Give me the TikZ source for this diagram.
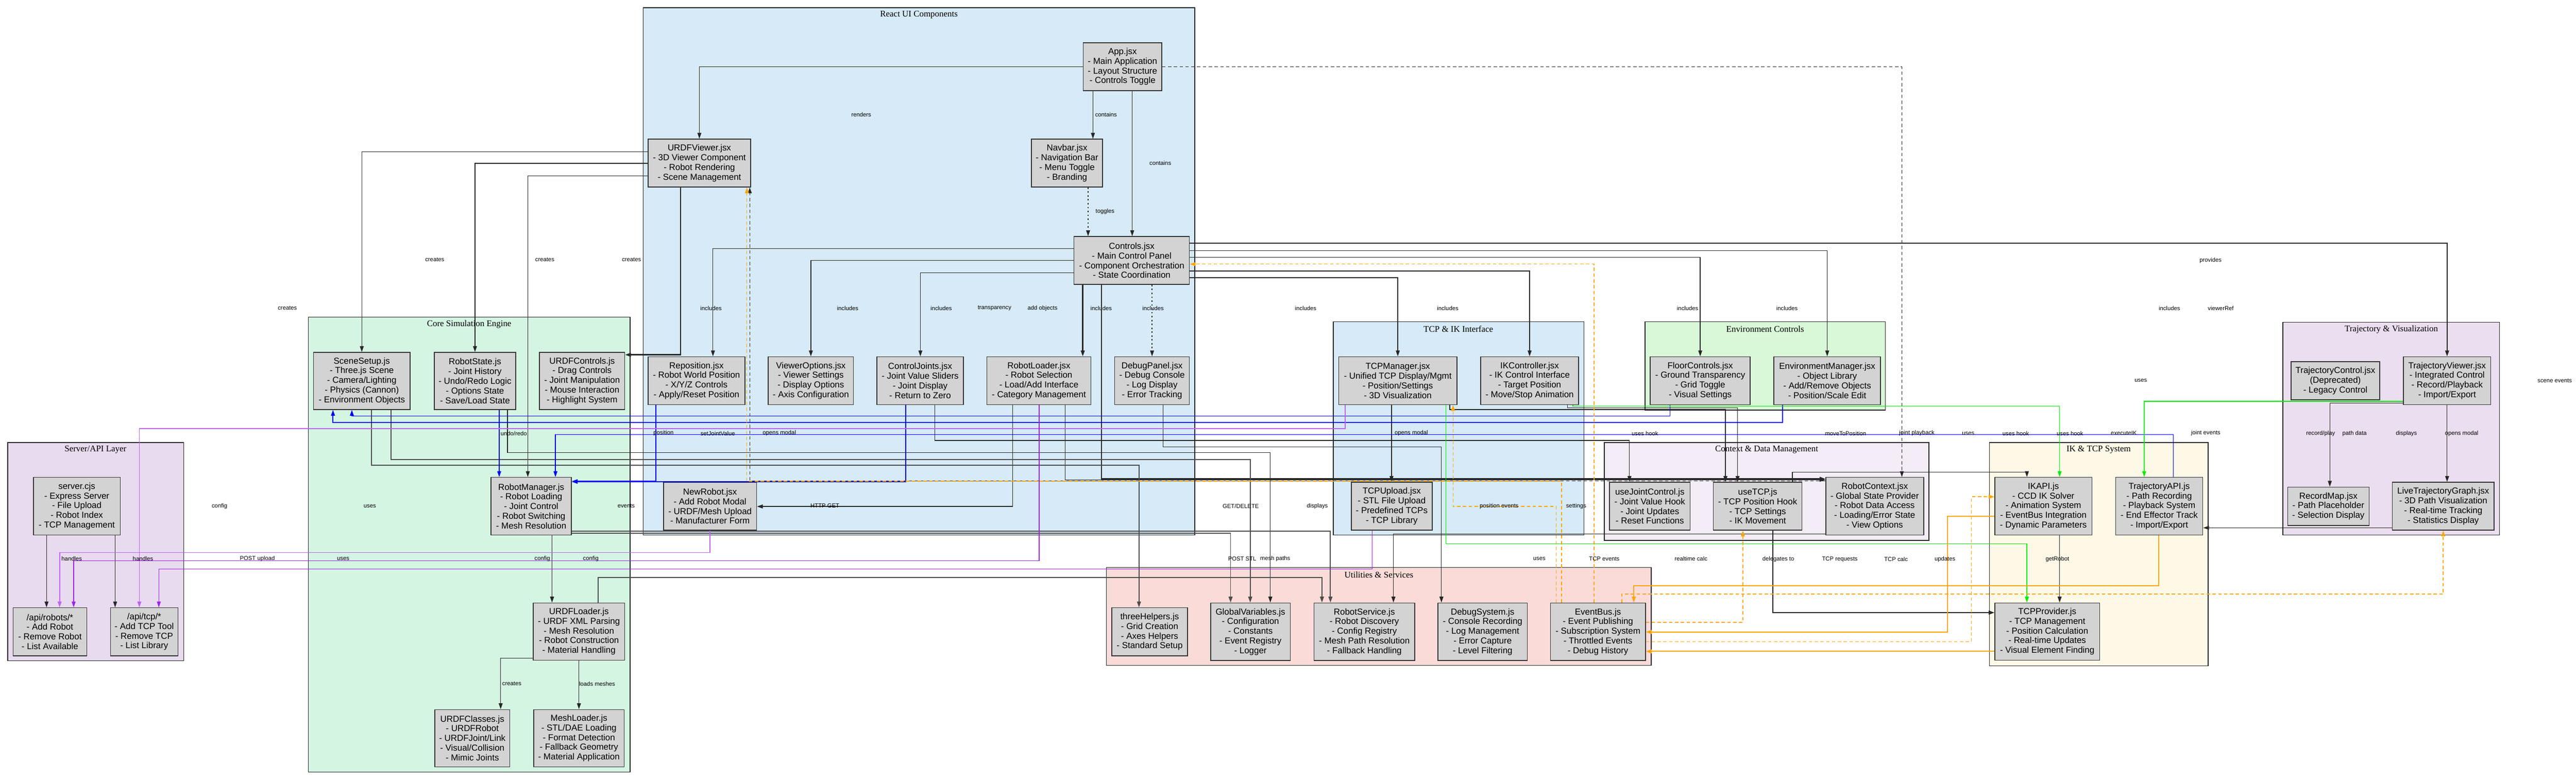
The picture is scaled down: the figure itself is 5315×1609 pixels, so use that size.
\documentclass[tikz,border=0pt]{standalone}
\usepackage{fontspec}
\setmainfont{Liberation Sans}
\newfontfamily\serifclu{Liberation Serif}
\usetikzlibrary{arrows.meta}
\definecolor{boxgray}{HTML}{D3D3D3}
\definecolor{cReact}{HTML}{D6EAF8}
\definecolor{cCore}{HTML}{D5F5E3}
\definecolor{cServer}{HTML}{E8DAEF}
\definecolor{cEnv}{HTML}{D8F8D8}
\definecolor{cCtx}{HTML}{F4ECF7}
\definecolor{cUtil}{HTML}{FADBD8}
\definecolor{cIK}{HTML}{FEF9E7}
\definecolor{cTraj}{HTML}{EBDEF0}
\definecolor{eorange}{HTML}{FFA500}
\definecolor{eblue}{HTML}{0000FF}
\definecolor{epurple}{HTML}{A020F0}
\definecolor{egreen}{HTML}{00EE00}
\tikzset{
  box/.style={draw=black!80, line width=1.6pt, fill=boxgray, inner sep=0pt, align=center, font=\fontsize{18}{20}\selectfont},
  clu/.style={draw=black!85, line width=1.5pt},
  clt/.style={font=\serifclu\fontsize{18}{20}\selectfont, inner sep=0pt},
  lab/.style={font=\fontsize{12}{14}\selectfont, inner sep=0pt},
  e/.style={color=black!85, line width=1.4pt, -{Triangle[length=12pt,width=8pt]}},
  ethick/.style={e, line width=2.4pt},
  ebl/.style={e, color=eblue, line width=1.3pt},
  epu/.style={e, color=epurple, line width=1.3pt},
  egr/.style={e, color=egreen, line width=1.5pt},
  eor/.style={e, color=eorange, line width=2pt},
  dsh/.style={dash pattern=on 7pt off 5pt},
  dotl/.style={dash pattern=on 3pt off 5pt},
}
\newcommand\boxnode[6]{\node[box,minimum width={(#4-#2)*1pt},minimum height={(#5-#3)*1pt}] (#1) at ({(#2+#4)/2},{(#3+#5)/2}) {#6};}
\begin{document}
\begin{tikzpicture}[x=1pt,y=-1pt]
\fill[white] (0,0) rectangle (5315,1609);
\useasboundingbox (0,0) rectangle (5315,1609);
% clusters
\draw[clu,fill=cReact] (1327,16) rectangle (2465,1104);
\draw[clu,fill=cCore] (636,654) rectangle (1300,1593);
\draw[clu,fill=cServer] (16,913) rectangle (379,1363);
\draw[clu,fill=cReact] (2751,664) rectangle (3268,1104);
\draw[clu,fill=cEnv] (3394,664) rectangle (3890,846);
\draw[clu,fill=cCtx] (3310,913) rectangle (3980,1115);
\draw[clu,fill=cUtil] (2283,1171) rectangle (3407,1373);
\draw[clu,fill=cIK] (4105,913) rectangle (4556,1374);
\draw[clu,fill=cTraj] (4710,665) rectangle (5157,1104);
\node[clt] (tReact) at (1896,31) {React UI Components};
\node[clt] (tCore) at (968,669) {Core Simulation Engine};
\node[clt] (tServer) at (197,928) {Server/API Layer};
\node[clt] (tTCPIK) at (3009,679) {TCP \& IK Interface};
\node[clt] (tEnv) at (3642,679) {Environment Controls};
\node[clt] (tCtx) at (3645,928) {Context \& Data Management};
\node[clt] (tUtil) at (2845,1186) {Utilities \& Services};
\node[clt] (tIK) at (4330,928) {IK \& TCP System};
\node[clt] (tTraj) at (4934,680) {Trajectory \& Visualization};
% nodes
\boxnode{App}{2235}{88}{2397}{187}{App.jsx\\- Main Application\\- Layout Structure\\- Controls Toggle}
\boxnode{URDFViewer}{1337}{287}{1549}{386}{URDFViewer.jsx\\- 3D Viewer Component\\- Robot Rendering\\- Scene Management}
\boxnode{Navbar}{2128}{287}{2275}{386}{Navbar.jsx\\- Navigation Bar\\- Menu Toggle\\- Branding}
\boxnode{Controls}{2216}{488}{2454}{587}{Controls.jsx\\- Main Control Panel\\- Component Orchestration\\- State Coordination}
\boxnode{Reposition}{1337}{736}{1537}{835}{Reposition.jsx\\- Robot World Position\\- X/Y/Z Controls\\- Apply/Reset Position}
\boxnode{ViewerOptions}{1585}{736}{1761}{835}{ViewerOptions.jsx\\- Viewer Settings\\- Display Options\\- Axis Configuration}
\boxnode{ControlJoints}{1809}{736}{1988}{835}{ControlJoints.jsx\\- Joint Value Sliders\\- Joint Display\\- Return to Zero}
\boxnode{RobotLoader}{2036}{736}{2251}{835}{RobotLoader.jsx\\- Robot Selection\\- Load/Add Interface\\- Category Management}
\boxnode{DebugPanel}{2300}{736}{2454}{835}{DebugPanel.jsx\\- Debug Console\\- Log Display\\- Error Tracking}
\boxnode{NewRobot}{1369}{995}{1561}{1094}{NewRobot.jsx\\- Add Robot Modal\\- URDF/Mesh Upload\\- Manufacturer Form}
\boxnode{SceneSetup}{647}{727}{846}{845}{SceneSetup.js\\- Three.js Scene\\- Camera/Lighting\\- Physics (Cannon)\\- Environment Objects}
\boxnode{RobotState}{896}{727}{1064}{845}{RobotState.js\\- Joint History\\- Undo/Redo Logic\\- Options State\\- Save/Load State}
\boxnode{URDFControls}{1113}{727}{1289}{845}{URDFControls.js\\- Drag Controls\\- Joint Manipulation\\- Mouse Interaction\\- Highlight System}
\boxnode{RobotManager}{1013}{985}{1179}{1104}{RobotManager.js\\- Robot Loading\\- Joint Control\\- Robot Switching\\- Mesh Resolution}
\boxnode{URDFLoader}{1100}{1244}{1289}{1362}{URDFLoader.js\\- URDF XML Parsing\\- Mesh Resolution\\- Robot Construction\\- Material Handling}
\boxnode{URDFClasses}{897}{1464}{1052}{1582}{URDFClasses.js\\- URDFRobot\\- URDFJoint/Link\\- Visual/Collision\\- Mimic Joints}
\boxnode{MeshLoader}{1101}{1464}{1288}{1582}{MeshLoader.js\\- STL/DAE Loading\\- Format Detection\\- Fallback Geometry\\- Material Application}
\boxnode{server}{69}{985}{248}{1104}{server.cjs\\- Express Server\\- File Upload\\- Robot Index\\- TCP Management}
\boxnode{apirobots}{27}{1254}{179}{1353}{/api/robots/*\\- Add Robot\\- Remove Robot\\- List Available}
\boxnode{apitcp}{228}{1254}{367}{1353}{/api/tcp/*\\- Add TCP Tool\\- Remove TCP\\- List Library}
\boxnode{TCPManager}{2762}{736}{3006}{835}{TCPManager.jsx\\- Unified TCP Display/Mgmt\\- Position/Settings\\- 3D Visualization}
\boxnode{IKController}{3055}{736}{3257}{835}{IKController.jsx\\- IK Control Interface\\- Target Position\\- Move/Stop Animation}
\boxnode{FloorControls}{3405}{736}{3611}{835}{FloorControls.jsx\\- Ground Transparency\\- Grid Toggle\\- Visual Settings}
\boxnode{EnvManager}{3660}{736}{3880}{835}{EnvironmentManager.jsx\\- Object Library\\- Add/Remove Objects\\- Position/Scale Edit}
\boxnode{TCPUpload}{2788}{995}{2955}{1094}{TCPUpload.jsx\\- STL File Upload\\- Predefined TCPs\\- TCP Library}
\boxnode{useJointControl}{3321}{995}{3487}{1094}{useJointControl.js\\- Joint Value Hook\\- Joint Updates\\- Reset Functions}
\boxnode{useTCP}{3535}{995}{3718}{1094}{useTCP.js\\- TCP Position Hook\\- TCP Settings\\- IK Movement}
\boxnode{RobotContext}{3767}{985}{3969}{1104}{RobotContext.jsx\\- Global State Provider\\- Robot Data Access\\- Loading/Error State\\- View Options}
\boxnode{threeHelpers}{2294}{1254}{2450}{1353}{threeHelpers.js\\- Grid Creation\\- Axes Helpers\\- Standard Setup}
\boxnode{GlobalVariables}{2498}{1244}{2662}{1363}{GlobalVariables.js\\- Configuration\\- Constants\\- Event Registry\\- Logger}
\boxnode{RobotService}{2711}{1244}{2919}{1363}{RobotService.js\\- Robot Discovery\\- Config Registry\\- Mesh Path Resolution\\- Fallback Handling}
\boxnode{DebugSystem}{2967}{1244}{3151}{1363}{DebugSystem.js\\- Console Recording\\- Log Management\\- Error Capture\\- Level Filtering}
\boxnode{EventBus}{3199}{1244}{3395}{1363}{EventBus.js\\- Event Publishing\\- Subscription System\\- Throttled Events\\- Debug History}
\boxnode{IKAPI}{4116}{985}{4316}{1104}{IKAPI.js\\- CCD IK Solver\\- Animation System\\- EventBus Integration\\- Dynamic Parameters}
\boxnode{TrajectoryAPI}{4365}{985}{4545}{1104}{TrajectoryAPI.js\\- Path Recording\\- Playback System\\- End Effector Track\\- Import/Export}
\boxnode{TCPProvider}{4116}{1244}{4332}{1362}{TCPProvider.js\\- TCP Management\\- Position Calculation\\- Real-time Updates\\- Visual Element Finding}
\boxnode{TrajectoryControl}{4727}{746}{4910}{825}{TrajectoryControl.jsx\\(Deprecated)\\- Legacy Control}
\boxnode{TrajectoryViewer}{4959}{736}{5139}{835}{TrajectoryViewer.jsx\\- Integrated Control\\- Record/Playback\\- Import/Export}
\boxnode{RecordMap}{4720}{1005}{4888}{1084}{RecordMap.jsx\\- Path Placeholder\\- Selection Display}
\boxnode{LiveGraph}{4936}{995}{5146}{1094}{LiveTrajectoryGraph.jsx\\- 3D Path Visualization\\- Real-time Tracking\\- Statistics Display}
% black edges
\draw[e] (App.west) -| (URDFViewer.north);
\draw[e] (2255,0 |- App.south) -- (2255,0 |- Navbar.north);
\draw[e] (2336,0 |- App.south) -- (2336,0 |- Controls.north);
\draw[e,dotl] (2245,0 |- Navbar.south) -- (2245,0 |- Controls.north);
\draw[e,dsh] (App.east) -| (3924,0 |- RobotContext.north);
\draw[e] (URDFViewer.west |- 0,313) -| (SceneSetup.north);
\draw[e] (URDFViewer.west |- 0,337) -| (RobotState.north);
\draw[e] (URDFViewer.west |- 0,363) -| (1089,0 |- RobotManager.north);
\draw[ethick] (1404,0 |- URDFViewer.south) |- (URDFControls.east |- 0,732);
\draw[e] (Controls.west |- 0,513) -| (1471,0 |- Reposition.north);
\draw[e] (Controls.west |- 0,537) -| (ViewerOptions.north);
\draw[e] (Controls.west |- 0,563) -| (1899,0 |- ControlJoints.north);
\draw[ethick] (2234,0 |- Controls.south) -- (2234,0 |- RobotLoader.north);
\draw[e,dotl] (2377,0 |- Controls.south) -- (2377,0 |- DebugPanel.north);
\draw[ethick] (2273,0 |- Controls.south) |- (RobotContext.west |- 0,988);
\draw[e] (Controls.east |- 0,573) -| (TCPManager.north);
\draw[e] (Controls.east |- 0,559) -| (IKController.north);
\draw[e] (Controls.east |- 0,531) -| (FloorControls.north);
\draw[e] (Controls.east |- 0,517) -| (EnvManager.north);
\draw[e,line width=1.8pt] (Controls.east |- 0,502) -| (TrajectoryViewer.north);
\draw[e] (2089,0 |- RobotLoader.south) |- (NewRobot.east |- 0,1045);
\draw[e] (2198,0 |- RobotLoader.south) |- (RobotContext.west |- 0,990);
\draw[e,dsh] (RobotContext.west |- 0,992) -| (1547,0 |- URDFViewer.south);
\draw[e,color=black!70,line width=2.2pt] (766,0 |- SceneSetup.south) |- (2350,960) -- (2350,0 |- threeHelpers.north);
\draw[e,color=black!70,line width=2.2pt] (807,0 |- SceneSetup.south) |- (2579.5,948) -- (2579.5,0 |- GlobalVariables.north);
\draw[e] (1047,0 |- RobotState.south) |- (2621,934) -- (2621,0 |- GlobalVariables.north);
\draw[e] (1139,0 |- RobotManager.south) -- (1139,0 |- URDFLoader.north);
\draw[e,color=black!70,line width=2pt] (RobotManager.east |- 0,1100) -| (2539,0 |- GlobalVariables.north);
\draw[e,color=black!70,line width=2pt] (RobotManager.east |- 0,1096) -| (2745,0 |- RobotService.north);
\draw[e,color=black!70,line width=2pt] (1234,0 |- URDFLoader.north) |- (2727.5,1192) -- (2727.5,0 |- RobotService.north);
\draw[e] (URDFLoader.west |- 0,1358) -| (1033,0 |- URDFClasses.north);
\draw[e] (URDFLoader.south) -- (MeshLoader.north);
\draw[e] (96,0 |- server.south) -- (96,0 |- apirobots.north);
\draw[e] (237.5,0 |- server.south) -- (237.5,0 |- apitcp.north);
\draw[e] (RobotContext.west |- 0,1102) -| (2875,0 |- RobotService.north);
\draw[e] (2400,0 |- DebugPanel.south) |- (2974,922) -- (2974,0 |- DebugSystem.north);
\draw[e] (1928.5,0 |- ControlJoints.south) |- (3362,909) -- (3362,0 |- useJointControl.north);
\draw[e] (2871,0 |- TCPManager.south) -- (2871,0 |- TCPUpload.north);
\draw[e] (3234,0 |- IKController.south) |- (3585,841) -- (3585,0 |- useTCP.north);
\draw[e,line width=2pt] (2991,0 |- TCPManager.south) |- (3560,845) -- (3560,0 |- useTCP.north);
\draw[e] (3698,0 |- useTCP.north) |- (4182,974) -- (4182,0 |- IKAPI.north);
\draw[e,line width=2pt] (3658,0 |- useTCP.south) |- (TCPProvider.west |- 0,1264);
\draw[e] (4249.5,0 |- IKAPI.south) -- (4249.5,0 |- TCPProvider.north);
\draw[e] (TrajectoryViewer.west |- 0,832) -| (4807,0 |- RecordMap.north);
\draw[e] (5049,0 |- TrajectoryViewer.south) -- (5049,0 |- LiveGraph.north);
\draw[e] (LiveGraph.west |- 0,1089) -- (TrajectoryAPI.east |- 0,1089);
% blue edges
\draw[ebl] (3445.5,0 |- FloorControls.south) |- (726,858) -- (726,0 |- SceneSetup.south);
\draw[ebl,line width=2pt] (3678,0 |- EnvManager.south) |- (687,872) -- (687,0 |- SceneSetup.south);
\draw[ebl] (4484.5,0 |- TrajectoryAPI.north) |- (1146,897) -- (1146,0 |- RobotManager.north);
\draw[ebl] (1030,0 |- RobotState.south) -- (1030,0 |- RobotManager.north);
\draw[ebl,line width=2pt] (1353,0 |- Reposition.south) |- (RobotManager.east |- 0,993);
\draw[ebl,line width=2pt] (1869,0 |- ControlJoints.south) |- (RobotManager.east |- 0,994);
% purple edges
\draw[epu,line width=2pt,color=epurple!70] (2775,0 |- TCPManager.south) |- (287.5,884) -- (287.5,0 |- apitcp.north);
\draw[epu,line width=2pt,color=epurple!70] (1465,0 |- NewRobot.south) |- (123,1140) -- (123,0 |- apirobots.north);
\draw[epu] (2144,0 |- RobotLoader.south) |- (152,1157) -- (152,0 |- apirobots.north);
\draw[epu] (2831,0 |- TCPUpload.south) |- (327.7,1174) -- (327.7,0 |- apitcp.north);
% green edges
\draw[egr] (3245.5,0 |- IKController.south) |- (4249.5,838) -- (4249.5,0 |- IKAPI.north);
\draw[egr] (TrajectoryViewer.west |- 0,828) -| (4424,0 |- TrajectoryAPI.north);
\draw[egr] (2983,0 |- TCPManager.south) |- (4182,1122) -- (4182,0 |- TCPProvider.north);
% orange edges
\draw[eor,dsh,line width=1.5pt] (3222,0 |- EventBus.north) |- (1541,993) -- (1541,0 |- URDFViewer.south);
\draw[eor,dsh,line width=1.5pt] (3211,0 |- EventBus.north) |- (2998,1045) -- (2998,0 |- TCPManager.south);
\draw[eor,dsh,line width=1.5pt] (3289,0 |- EventBus.north) |- (Controls.east |- 0,545);
\draw[eor] (4454,0 |- TrajectoryAPI.south) |- (3371,1209) -- (3371,0 |- EventBus.north);
\draw[eor,dsh] (3346,0 |- EventBus.north) |- (5041,1226) -- (5041,0 |- LiveGraph.south);
\draw[eor,dsh] (EventBus.east |- 0,1284) -| (3596,0 |- useTCP.south);
\draw[eor] (IKAPI.west |- 0,1065) -- (4018,1065) |- (EventBus.east |- 0,1304);
\draw[eor,dsh] (EventBus.east |- 0,1324) -- (4067.5,1324) |- (IKAPI.west |- 0,1025);
\draw[eor] (TCPProvider.west |- 0,1344) -- (EventBus.east |- 0,1344);
% labels
\node[lab] (l1) at (1777,236) {renders};
\node[lab] (l2) at (2282,236) {contains};
\node[lab] (l3) at (2394,336) {contains};
\node[lab] (l4) at (2280,436) {toggles};
\node[lab] (l5) at (897,536) {creates};
\node[lab] (l6) at (1124,536) {creates};
\node[lab] (l7) at (1303,536) {creates};
\node[lab] (l8) at (4561,537) {provides};
\node[lab] (l9) at (593,636) {creates};
\node[lab] (l10) at (1467,636) {includes};
\node[lab] (l11) at (1749,636) {includes};
\node[lab] (l12) at (1942,636) {includes};
\node[lab] (l13) at (2052,636) {transparency};
\node[lab] (l14) at (2151,636) {add objects};
\node[lab] (l15) at (2272,636) {includes};
\node[lab] (l16) at (2379,636) {includes};
\node[lab] (l17) at (2694,636) {includes};
\node[lab] (l18) at (2987,636) {includes};
\node[lab] (l19) at (3482,636) {includes};
\node[lab] (l20) at (3687,636) {includes};
\node[lab] (l21) at (4476,636) {includes};
\node[lab] (l22) at (4582,636) {viewerRef};
\node[lab] (l23) at (4417,785) {uses};
\node[lab] (l24) at (5271,785) {scene events};
\node[lab] (l25) at (1060,894) {undo/redo};
\node[lab] (l26) at (1369,894) {position};
\node[lab] (l27) at (1481,894) {setJointValue};
\node[lab] (l28) at (1608,894) {opens modal};
\node[lab] (l29) at (2912,894) {opens modal};
\node[lab] (l30) at (3394,894) {uses hook};
\node[lab] (l31) at (3808,894) {moveToPosition};
\node[lab] (l32) at (3955,894) {joint playback};
\node[lab] (l33) at (4061,894) {uses};
\node[lab] (l34) at (4159,894) {uses hook};
\node[lab] (l35) at (4271,894) {uses hook};
\node[lab] (l36) at (4382,894) {executeIK};
\node[lab] (l37) at (4551,894) {joint events};
\node[lab] (l38) at (4788,895) {record/play};
\node[lab] (l39) at (4858,895) {path data};
\node[lab] (l40) at (4965,895) {displays};
\node[lab] (l41) at (5079,895) {opens modal};
\node[lab] (l42) at (453,1044) {config};
\node[lab] (l43) at (763,1044) {uses};
\node[lab] (l44) at (1292,1044) {events};
\node[lab] (l45) at (1702,1043) {HTTP GET};
\node[lab] (l46) at (2560,1044) {GET/DELETE};
\node[lab] (l47) at (2718,1044) {displays};
\node[lab] (l48) at (3093,1044) {position events};
\node[lab] (l49) at (3252,1044) {settings};
\node[lab] (l50) at (148,1153) {handles};
\node[lab] (l51) at (295,1153) {handles};
\node[lab] (l52) at (531,1153) {POST upload};
\node[lab] (l53) at (708,1153) {uses};
\node[lab] (l54) at (1119,1153) {config};
\node[lab] (l55) at (1219,1153) {config};
\node[lab] (l56) at (2563,1153) {POST STL};
\node[lab] (l57) at (2631,1153) {mesh paths};
\node[lab] (l58) at (3176,1153) {uses};
\node[lab] (l59) at (3310,1153) {TCP events};
\node[lab] (l60) at (3489,1153) {realtime calc};
\node[lab] (l61) at (3669,1154) {delegates to};
\node[lab] (l62) at (3796,1154) {TCP requests};
\node[lab] (l63) at (3912,1154) {TCP calc};
\node[lab] (l64) at (4013,1154) {updates};
\node[lab] (l65) at (4245,1154) {getRobot};
\node[lab] (l66) at (1056,1411) {creates};
\node[lab] (l67) at (1232,1411) {loads meshes};
\end{tikzpicture}
\end{document}
